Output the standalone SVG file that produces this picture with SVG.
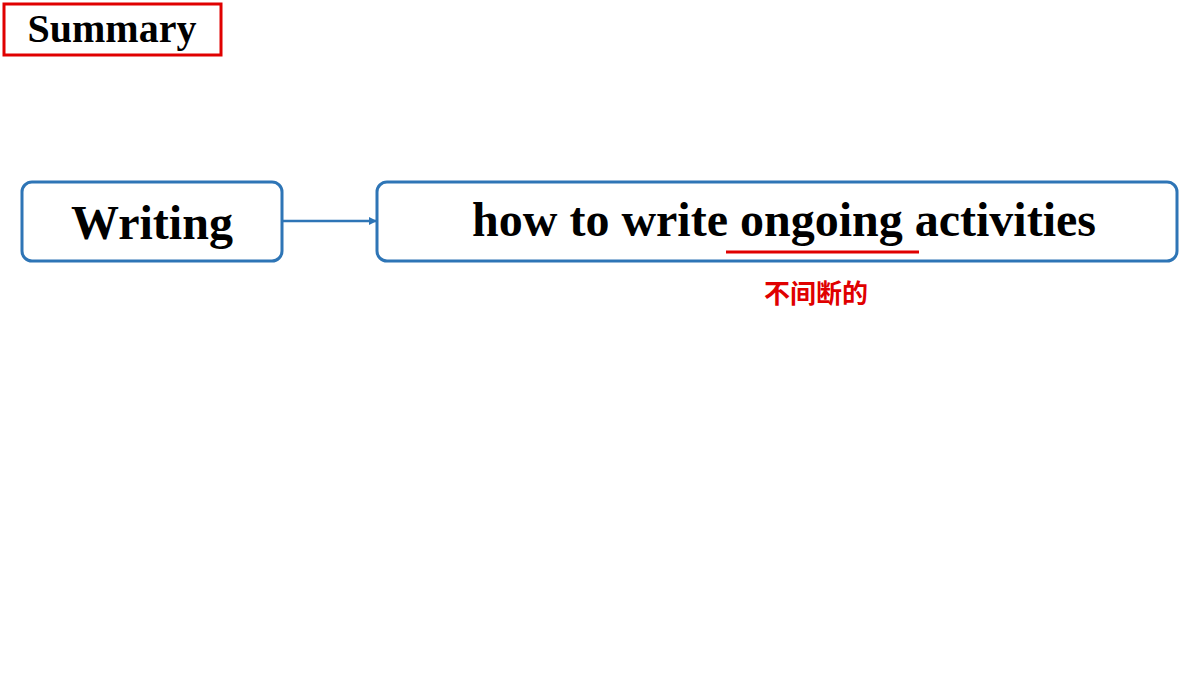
<svg xmlns="http://www.w3.org/2000/svg" width="1200" height="675" viewBox="0 0 1200 675">
<style>
.box{fill:#fff;stroke:#2e75b6;stroke-width:3}
.t{font-family:"Liberation Serif",serif;font-weight:bold;fill:#000}
</style>
<defs><marker id="a" markerWidth="8" markerHeight="8" refX="7" refY="4" orient="auto" markerUnits="userSpaceOnUse"><path d="M0,0L8,4L0,8z" fill="#2e75b6"/></marker></defs>
<rect width="1200" height="675" fill="#fff"/>
<g id="summary"><rect x="4" y="4" width="217" height="51" fill="none" stroke="#e00000" stroke-width="3"/><text class="t" x="112" y="42" font-size="40" text-anchor="middle">Summary</text></g>
<g id="writing"><rect class="box" x="22" y="182" width="260" height="79" rx="10"/><text class="t" x="152" y="239" font-size="48" text-anchor="middle">Writing</text></g>
<g id="how"><rect class="box" x="377" y="182" width="800" height="79" rx="10"/><text class="t" x="784" y="236" font-size="48" text-anchor="middle">how to write ongoing activities</text>
<line x1="726" y1="252" x2="919" y2="252" stroke="#e00000" stroke-width="3"/>
<text x="816" y="303" font-size="26" font-weight="bold" fill="#e00000" text-anchor="middle" font-family="Noto Sans CJK SC,sans-serif">不间断的</text></g>
<g id="connectors"><line x1="282" y1="221" x2="376" y2="221" stroke="#2e75b6" stroke-width="2.5" marker-end="url(#a)"/></g>
</svg>
